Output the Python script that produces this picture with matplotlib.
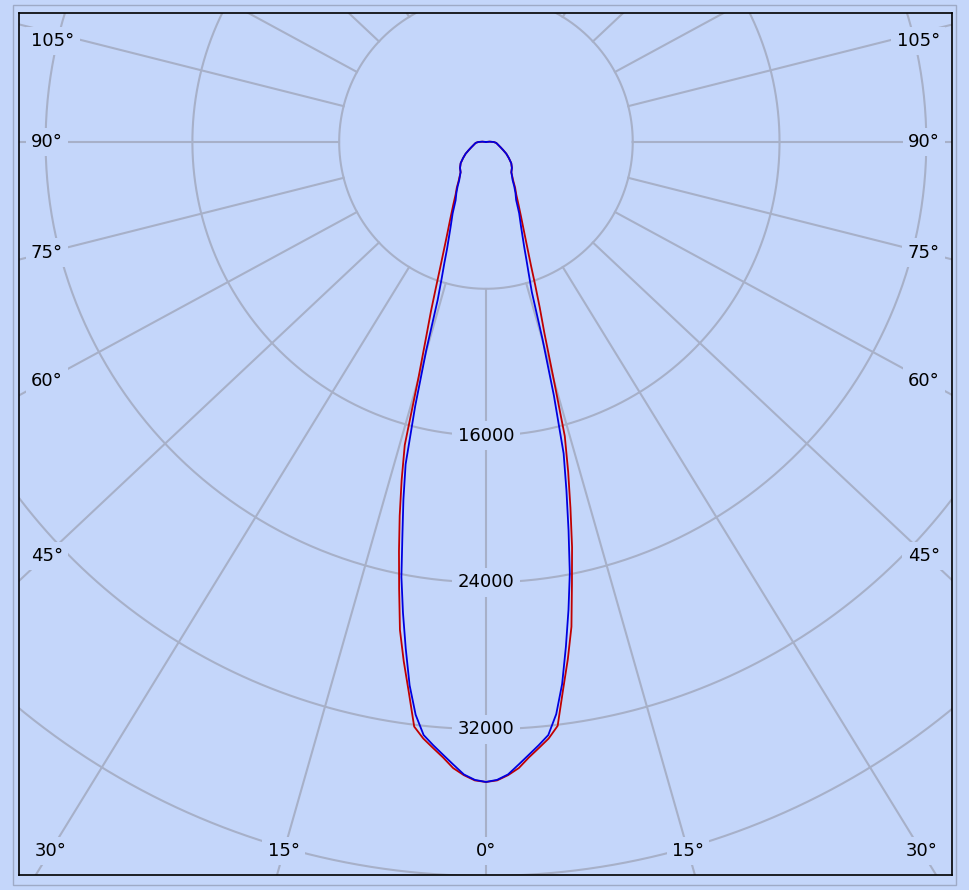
import numpy as np
import matplotlib
matplotlib.use("Agg")
import matplotlib.pyplot as plt
from matplotlib.patches import Rectangle

# gamma angles (deg) and luminous intensity (cd) per C-plane
gamma = [0, 1, 2, 3, 4, 5, 6, 7, 8, 9, 10, 11, 12, 13, 14, 15, 16, 17, 18, 19, 20,
         22.5, 25, 27.5, 30, 32.5, 35, 37.5, 40,
         45, 50, 55, 60, 65, 70, 75, 80, 85, 90, 95, 100,
         105, 110, 120, 130, 140, 150, 160, 170, 180]

tail = [2000, 1800, 1520, 1280, 1030, 850, 720, 630, 560, 420, 200, 0,
        0, 0, 0, 0, 0, 0, 0, 0, 0]

c0 = [34880, 34800, 34530, 34170, 33620, 33150, 32690, 32060, 30170, 28530, 26830,
      24560, 22570, 20470, 18520, 16600, 13260, 10900, 9480, 8240, 7190,
      5560, 4550, 3840, 3300, 2960, 2600, 2350, 2150] + tail
c180 = [34880, 34800, 34530, 34170, 33620, 33150, 32690, 32100, 30250, 28650, 27000,
        24800, 22800, 20900, 19000, 17100, 13300, 11200, 9700, 8350, 7300,
        5600, 4580, 3860, 3310, 2960, 2600, 2350, 2150] + tail
c90 = [34880, 34770, 34490, 33980, 33480, 33000, 32500, 31420, 29830, 27850, 25900,
       23950, 21650, 19500, 17500, 14300, 11170, 8550, 7540, 6760, 6100,
       5000, 4280, 3560, 3220, 2870, 2530, 2330, 2150] + tail
c270 = [34880, 34770, 34490, 33980, 33480, 33000, 32500, 31450, 29900, 27950, 26050,
        24150, 21900, 20000, 18100, 14900, 11800, 9000, 7800, 6950, 6200,
        5050, 4300, 3580, 3230, 2880, 2540, 2330, 2150] + tail

rings = [8000, 16000, 24000, 32000, 40000, 48000]
ring_labels = ["16000", "24000", "32000"]
angle_labels = [0, 15, 30, 45, 60, 75, 90, 105]

BG = "#C4D6FA"
GRID = "#A7B0C8"
SQUASH = 0.94  # spokes in the source are a bit flattened vertically

plt.rcParams["font.family"] = ["DejaVu Sans"]

fig = plt.figure(figsize=(9.69, 8.90), dpi=100, facecolor=BG)
ax = fig.add_axes([19 / 969, 15 / 890, 933 / 969, 862 / 890])
ax.set_facecolor(BG)
ax.set_xlim(-25450, 25400)
ax.set_ylim(-39950, 7030)
ax.set_xticks([])
ax.set_yticks([])
for sp in ax.spines.values():
    sp.set_color("black")
    sp.set_linewidth(1.2)

# outer light frame
fig.patches.append(Rectangle((13 / 969, 5 / 890), 943 / 969, 880 / 890, transform=fig.transFigure,
                             fill=False, edgecolor="#9EAAC6", linewidth=1))

# rings
t = np.linspace(0, 2 * np.pi, 721)
for r in rings:
    ax.plot(r * np.cos(t), r * np.sin(t), color=GRID, lw=1.5, zorder=1)

# spokes every 15 deg, starting at the first ring
def spoke_dir(a):
    a = np.radians(a)
    u = np.array([np.sin(a), -SQUASH * np.cos(a)])
    return u / np.hypot(*u)

for a in range(-180, 181, 15):
    u = spoke_dir(a)
    ax.plot([rings[0] * u[0], 80000 * u[0]], [rings[0] * u[1], 80000 * u[1]], color=GRID, lw=1.5, zorder=1)

box = dict(boxstyle="square,pad=0.3", facecolor=BG, edgecolor="none")

for lab in ring_labels:
    ax.text(0, -float(lab), lab, ha="center", va="center", fontsize=13, bbox=box, zorder=3)

side_x = 24000
bottom_y = -38640
for a in angle_labels:
    for sgn in (-1, 1):
        if a == 0 and sgn == 1:
            continue
        u = spoke_dir(sgn * a)
        txt = f"{a}\u00b0"
        if abs(u[0]) > 1e-9 and abs(side_x / u[0] * u[1]) < abs(bottom_y):
            y = min(side_x / abs(u[0]) * u[1], 5500)
            if sgn < 0:
                ax.text(-24800, y, txt, ha="left", va="center", fontsize=13, bbox=box, zorder=3)
            else:
                ax.text(24740, y, txt, ha="right", va="center", fontsize=13, bbox=box, zorder=3)
        else:
            x = bottom_y / u[1] * u[0]
            ax.text(x, bottom_y, txt, ha="center", va="center", fontsize=13, bbox=box, zorder=3)


def curve(left, right):
    g = np.radians(gamma)
    il = np.array(left, float)
    ir = np.array(right, float)
    x = np.concatenate([-il[::-1] * np.sin(g[::-1]), ir[1:] * np.sin(g[1:])])
    y = np.concatenate([-il[::-1] * np.cos(g[::-1]), -ir[1:] * np.cos(g[1:])])
    return x, y


xr, yr = curve(c180, c0)
xb, yb = curve(c270, c90)
ax.plot(xr, yr, color="#C00000", lw=1.3, zorder=4, solid_joinstyle="round")
ax.plot(xb, yb, color="#0000E0", lw=1.3, zorder=5, solid_joinstyle="round")

fig.savefig("out.png", dpi=100, facecolor=BG)
